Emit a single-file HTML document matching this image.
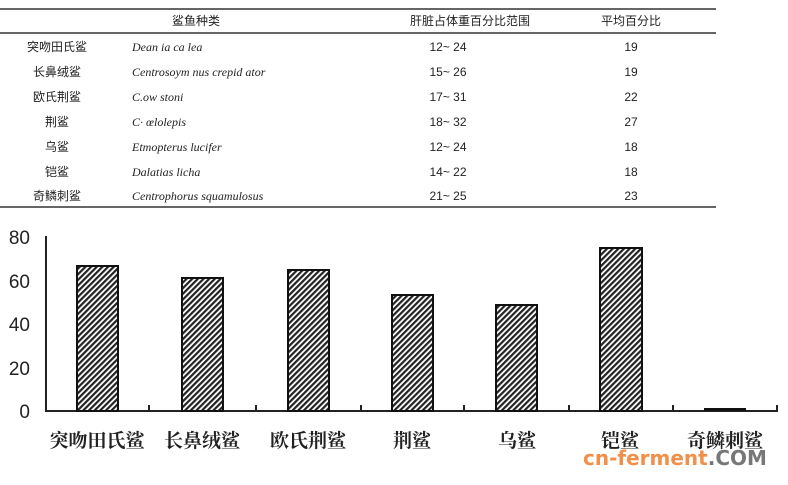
<!DOCTYPE html>
<html><head><meta charset="utf-8"><style>
body{margin:0;width:788px;height:480px;background:#fff;overflow:hidden}
</style></head><body>
<svg width="788" height="480" viewBox="0 0 788 480" xmlns="http://www.w3.org/2000/svg">
<defs>
<pattern id="h" patternUnits="userSpaceOnUse" width="4" height="4" patternTransform="rotate(45)">
<rect width="4" height="4" fill="#fff"/><rect width="2.2" height="4" fill="#222"/>
</pattern>
</defs>
<g stroke="#333" stroke-width="1.5">
<line x1="0" y1="9" x2="716" y2="9"/>
<line x1="0" y1="33" x2="716" y2="33"/>
<line x1="0" y1="207" x2="716" y2="207"/>
</g>
<g font-family="'Liberation Sans','Noto Sans CJK SC',sans-serif" font-size="12" fill="#222" text-anchor="middle">
<text x="196" y="25">鲨鱼种类</text>
<text x="470" y="25">肝脏占体重百分比范围</text>
<text x="631" y="25">平均百分比</text>
<text x="57" y="51">突吻田氏鲨</text>
<text x="57" y="76">长鼻绒鲨</text>
<text x="57" y="101">欧氏荆鲨</text>
<text x="57" y="126">荆鲨</text>
<text x="57" y="151">乌鲨</text>
<text x="57" y="176">铠鲨</text>
<text x="57" y="200">奇鳞刺鲨</text>
<text x="448" y="51">12~ 24</text><text x="631" y="51">19</text>
<text x="448" y="76">15~ 26</text><text x="631" y="76">19</text>
<text x="448" y="101">17~ 31</text><text x="631" y="101">22</text>
<text x="448" y="126">18~ 32</text><text x="631" y="126">27</text>
<text x="448" y="151">12~ 24</text><text x="631" y="151">18</text>
<text x="448" y="176">14~ 22</text><text x="631" y="176">18</text>
<text x="448" y="200">21~ 25</text><text x="631" y="200">23</text>
</g>
<g font-family="'Liberation Serif',serif" font-style="italic" font-size="12" fill="#222">
<text x="132" y="51">Dean ia ca lea</text>
<text x="132" y="76">Centrosoym nus crepid ator</text>
<text x="132" y="101">C.ow stoni</text>
<text x="132" y="126">C·  œlolepis</text>
<text x="132" y="151">Etmopterus lucifer</text>
<text x="132" y="176">Dalatias licha</text>
<text x="132" y="200">Centrophorus squamulosus</text>
</g>
<g stroke="#222" stroke-width="2">
<line x1="46" y1="236" x2="46" y2="411"/>
<line x1="45" y1="411" x2="778" y2="411"/>
<line x1="149" y1="405" x2="149" y2="411"/><line x1="256" y1="405" x2="256" y2="411"/>
<line x1="361" y1="405" x2="361" y2="411"/><line x1="464" y1="405" x2="464" y2="411"/>
<line x1="569" y1="405" x2="569" y2="411"/><line x1="673" y1="405" x2="673" y2="411"/>
<line x1="777" y1="405" x2="777" y2="411"/>
</g>
<g font-family="'Liberation Sans',sans-serif" font-size="19" fill="#222" text-anchor="end">
<text x="30" y="244">80</text><text x="30" y="288">60</text><text x="30" y="331">40</text>
<text x="30" y="375">20</text><text x="30" y="418">0</text>
</g>
<g fill="url(#h)" stroke="#111" stroke-width="2">
<rect x="77" y="266" width="41" height="145"/>
<rect x="182" y="278" width="41" height="133"/>
<rect x="288" y="270" width="41" height="141"/>
<rect x="392" y="295" width="41" height="116"/>
<rect x="496" y="305" width="41" height="106"/>
<rect x="600" y="248" width="42" height="163"/>
</g>
<rect x="704" y="408" width="42" height="3" fill="#111"/>
<g font-family="'Liberation Serif','Noto Serif CJK SC',serif" font-size="19" font-weight="bold" fill="#222" text-anchor="middle">
<text x="97" y="447">突吻田氏鲨</text>
<text x="202" y="447">长鼻绒鲨</text>
<text x="308" y="447">欧氏荆鲨</text>
<text x="412" y="447">荆鲨</text>
<text x="517" y="447">乌鲨</text>
<text x="620" y="447">铠鲨</text>
<text x="725" y="447">奇鳞刺鲨</text>
</g>
<text x="583" y="465" font-family="'DejaVu Sans',sans-serif" font-weight="bold" font-size="20" fill="#f0904a">cn-ferment<tspan fill="#777">.COM</tspan></text>
</svg>
</body></html>
